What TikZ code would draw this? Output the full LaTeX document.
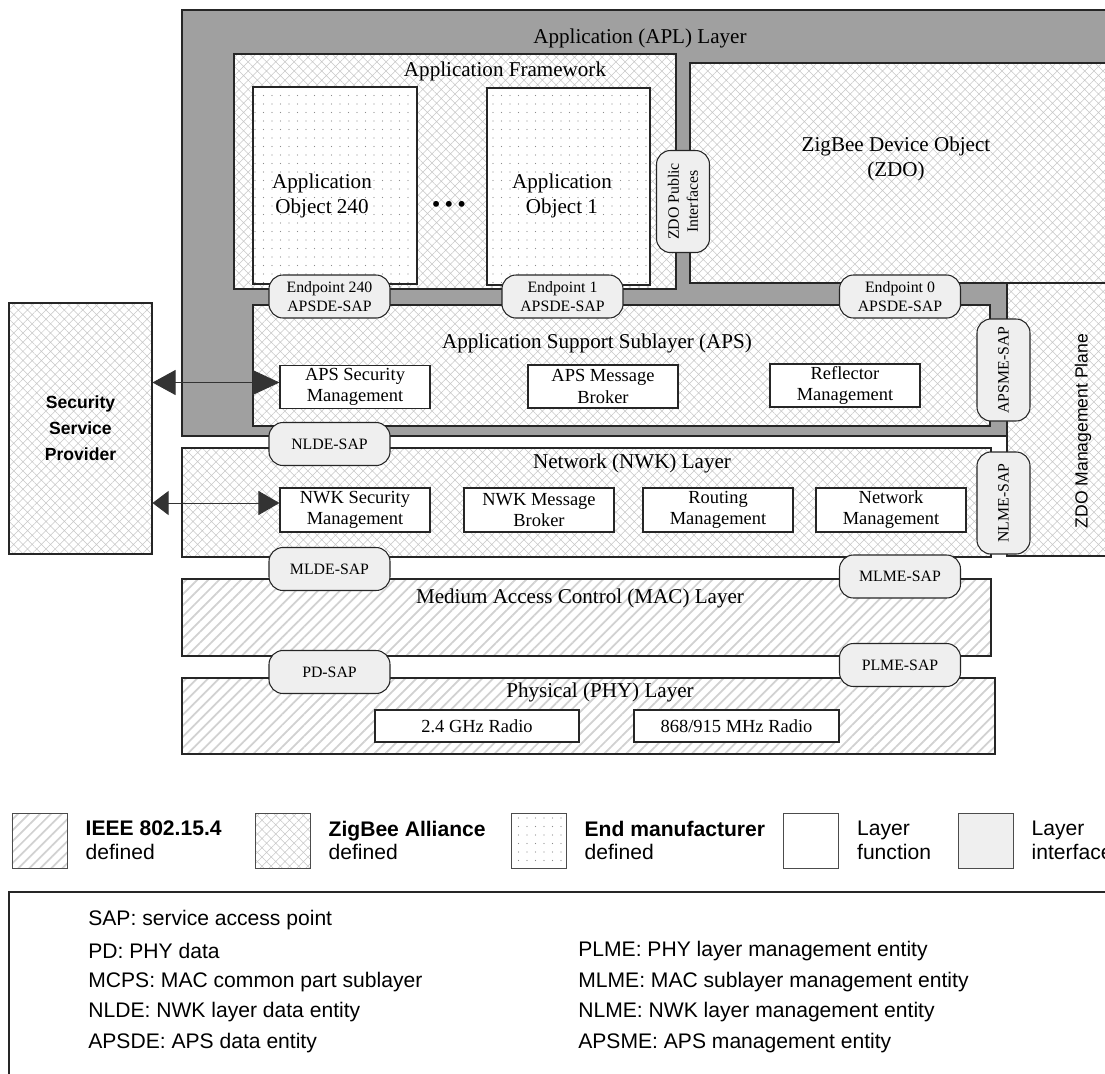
\documentclass[tikz,border=0pt]{standalone}
\usepackage{fontspec}
\setmainfont{Liberation Serif}
\setsansfont{Liberation Sans}
\usetikzlibrary{arrows.meta,patterns.meta,positioning}
\definecolor{aplgray}{HTML}{A0A0A0}
\definecolor{sapgray}{HTML}{EFEFEF}
\definecolor{linegray}{HTML}{262626}
\newcommand{\ttlsize}{\fontsize{12}{14.2}\selectfont}
\newcommand{\fnsize}{\fontsize{10.5}{12}\selectfont}
\newcommand{\sapsize}{\fontsize{9}{10.8}\selectfont}
\newcommand{\legsize}{\sffamily\fontsize{12}{13.5}\selectfont}
\tikzset{
  lyr/.style      = {draw=linegray, line width=0.6pt},
  zba/.style      = {lyr, preaction={fill=white},
                     pattern={Hatch[angle=45,distance=1.3mm,line width=0.3pt]},
                     pattern color=black!22},
  ieee/.style     = {lyr, preaction={fill=white},
                     pattern={Lines[angle=45,distance=1.55mm,line width=0.35mm]},
                     pattern color=black!18},
  endm/.style     = {lyr, preaction={fill=white},
                     pattern={Dots[distance=1.7mm,radius=0.13mm]},
                     pattern color=black!45},
  fbox/.style     = {lyr, fill=white, align=center, inner sep=1pt, font=\fnsize},
  sap/.style      = {lyr, fill=sapgray, rounded corners=2.8mm, align=center,
                     inner sep=1pt, font=\sapsize,
                     minimum width=24.2mm, minimum height=8.6mm},
  vsap/.style     = {sap, rotate=90, minimum width=20.4mm, minimum height=10.6mm},
  ttl/.style      = {font=\ttlsize, align=center},
  apsarrow/.style = {{Triangle[length=4.6mm,width=5mm]}-{Triangle[length=5.4mm,width=5mm]},
                     draw=black!80, line width=0.5pt},
  nwkarrow/.style = {{Triangle[length=3.2mm,width=4.8mm]}-{Triangle[length=4.2mm,width=4.8mm]},
                     draw=black!80, line width=0.5pt},
  legbox/.style   = {draw=black!70, line width=0.5pt, minimum size=11mm, inner sep=0pt},
  legtxt/.style   = {font=\legsize, align=left},
  abbr/.style     = {anchor=west, inner sep=0pt, font=\legsize},
}

\begin{document}
\begin{tikzpicture}[x=0.2mm,y=-0.2mm]
  \useasboundingbox (0,0) rectangle (1105,1073);
  \clip (0,0) rectangle (1105,1073);

  % application layer
  \draw[lyr, fill=aplgray] (182,10) rectangle (1120,436);
  \draw[zba] (1007,283) rectangle (1120,556);
  \node[font=\sffamily\fontsize{10}{12}\selectfont, rotate=90] (zdoplane) at (1083,431) {ZDO Management Plane};
  \node[ttl] (apl) at (640,38) {Application (APL) Layer};

  \draw[zba] (234,54) rectangle (676,289);
  \node[ttl] (afw) at (505,71) {Application Framework};
  \draw[endm] (253,87) rectangle (417,284);
  \draw[endm] (487,88) rectangle (650,285);
  \node[ttl] (ao240) at (322,196) {Application\\Object 240};
  \node[ttl] (ao1) at (562,196) {Application\\Object 1};
  \node[font=\fontsize{14}{14}\selectfont] (ellip) at (449,207) {\textbullet\,\textbullet\,\textbullet};

  \draw[zba] (690,63) rectangle (1120,283);
  \node[ttl] (zdo) at (896,159) {ZigBee Device Object\\(ZDO)};
  \node[vsap] (zdopub) at (683,201.5) {ZDO Public\\Interfaces};

  % APS
  \draw[zba] (253,305) rectangle (990,426);
  \node[ttl] (aps) at (597,343) {Application Support Sublayer (APS)};
  \node[fbox, minimum width=30mm, minimum height=8.6mm] (apssec) at (355,387) {APS Security\\Management};
  \node[fbox, minimum width=30mm, minimum height=8.6mm] (apsmsg) at (603,386.5) {APS Message\\Broker};
  \node[fbox, minimum width=30mm, minimum height=8.6mm] (reflect) at (845,385.5) {Reflector\\Management};
  \node[sap] (ep240) at (329.5,296.5) {Endpoint 240\\APSDE-SAP};
  \node[sap] (ep1) at (562.5,296.5) {Endpoint 1\\APSDE-SAP};
  \node[sap] (ep0) at (900,296.5) {Endpoint 0\\APSDE-SAP};
  \node[vsap] (apsme) at (1003.5,370) {APSME-SAP};

  % NWK
  \draw[zba] (182,448) rectangle (991,557);
  \node[ttl] (nwk) at (632,463) {Network (NWK) Layer};
  \node[fbox, minimum width=30mm, minimum height=8.8mm] (nwksec) at (355,510) {NWK Security\\Management};
  \node[fbox, minimum width=30mm, minimum height=8.8mm] (nwkmsg) at (539,510) {NWK Message\\Broker};
  \node[fbox, minimum width=30mm, minimum height=8.8mm] (routing) at (718,510) {Routing\\Management};
  \node[fbox, minimum width=30mm, minimum height=8.8mm] (nwkmgmt) at (891,510) {Network\\Management};
  \node[sap] (nlde) at (329.5,444) {NLDE-SAP};
  \node[vsap] (nlme) at (1003.5,503) {NLME-SAP};

  % MAC
  \draw[ieee] (182,579) rectangle (991,656);
  \node[ttl] (mac) at (580,598) {Medium Access Control (MAC) Layer};
  \node[sap] (mlde) at (329.5,569) {MLDE-SAP};
  \node[sap] (mlme) at (900,576.5) {MLME-SAP};

  % PHY
  \draw[ieee] (182,678) rectangle (995,754);
  \node[ttl] (phy) at (600,692) {Physical (PHY) Layer};
  \node[fbox, minimum width=40.8mm, minimum height=6.4mm] (radio24) at (477,726) {2.4 GHz Radio};
  \node[fbox, minimum width=41mm, minimum height=6.4mm] (radio868) at (736.5,726) {868/915 MHz Radio};
  \node[sap] (pd) at (329.5,672) {PD-SAP};
  \node[sap] (plme) at (900,665) {PLME-SAP};

  % security service provider
  \node[zba, minimum width=28.6mm, minimum height=50.2mm, align=center,
        font=\sffamily\bfseries\fontsize{10}{14.8}\selectfont] (ssp) at (80.5,428.5) {Security\\Service\\Provider};
  \coordinate (apsin) at ([yshift=0.9mm]apssec.west);
  \coordinate (nwkin) at ([yshift=1.4mm]nwksec.west);
  \draw[apsarrow] (apsin -| ssp.east) -- (apsin);
  \draw[nwkarrow] (nwkin -| ssp.east) -- (nwkin);

  % legend
  \node[ieee, legbox] (lgieee) at (39.5,840.5) {};
  \node[legtxt, right=2.4mm of lgieee] (txieee) {\textbf{IEEE 802.15.4}\\defined};
  \node[zba, legbox] (lgzba) at (282.5,840.5) {};
  \node[legtxt, right=2.4mm of lgzba] (txzba) {\textbf{ZigBee Alliance}\\defined};
  \node[endm, legbox] (lgend) at (538.5,840.5) {};
  \node[legtxt, right=2.4mm of lgend] (txend) {\textbf{End manufacturer}\\defined};
  \node[legbox, fill=white] (lgfunc) at (811,840.5) {};
  \node[legtxt, right=2.4mm of lgfunc] (txfunc) {Layer\\function};
  \node[legbox, fill=sapgray] (lgif) at (985.5,840.5) {};
  \node[legtxt, right=2.4mm of lgif] (txif) {Layer\\interface};

  % abbreviations
  \draw[draw=black!85, line width=0.9pt] (9,892) rectangle (1120,1100);
  \node[abbr] (abbsap) at (88,920) {SAP: service access point};
  \node[abbr] (abbpd) at (88,951) {PD: PHY data};
  \node[abbr] (abbmcps) at (88,982) {MCPS: MAC common part sublayer};
  \node[abbr] (abbnlde) at (88,1012) {NLDE: NWK layer data entity};
  \node[abbr] (abbapsde) at (88,1043) {APSDE: APS data entity};
  \node[abbr] (abbplme) at (578,951) {PLME: PHY layer management entity};
  \node[abbr] (abbmlme) at (578,982) {MLME: MAC sublayer management entity};
  \node[abbr] (abbnlme) at (578,1012) {NLME: NWK layer management entity};
  \node[abbr] (abbapsme) at (578,1043) {APSME: APS management entity};
\end{tikzpicture}
\end{document}
